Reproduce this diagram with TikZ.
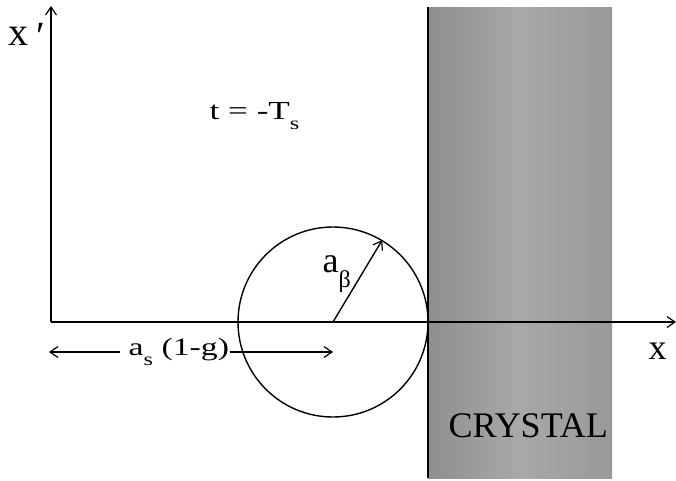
\documentclass[tikz,border=0pt]{standalone}
\usepackage{fontspec}
\setmainfont{Liberation Serif}
\usetikzlibrary{arrows.meta}
\newcommand\lsub[2][18]{\raisebox{-0.42em}{\fontsize{#1}{#1}\selectfont #2}}
\begin{document}
\begin{tikzpicture}[x=1pt,y=-1pt,line width=1.4pt,
  tip/.style={-{Straight Barb[length=8pt,width=11pt,line width=1.2pt]}},
  lbl/.style={inner sep=0pt,anchor=base west}]
\useasboundingbox (0,0) rectangle (676,480);
% crystal
\shade[left color=black!44,right color=black!40,middle color=black!34] (428,7) rectangle (612,478);
\coordinate (ctop) at (428,7);
\coordinate (cbot) at (428,478);
\draw[line width=1.6pt] (ctop) -- (cbot);
% axes
\coordinate (O) at (51,322);
\coordinate (xend) at (676,322);
\coordinate (yend) at (51,6);
\draw[tip] (O) -- (xend);
\draw[tip] (O) -- (yend);
% circle
\node[circle,draw,minimum size=190pt,inner sep=0pt] (c) at (333,322) {};
\draw[tip] (c.center) -- (c.59);
% labels
\node[lbl,font=\fontsize{40}{40}\selectfont] (xp) at (8,45) {x\hspace{0.2em}\raisebox{-0.12em}{′}};
\node[lbl,font=\fontsize{36}{36}\selectfont] (xl) at (648,359) {x};
\node[lbl,font=\fontsize{26}{26}\selectfont] (t) at (209,119) {\scalebox{1.35}[1]{t = -T\lsub{s}}};
\node[lbl,font=\fontsize{36}{36}\selectfont] (ab) at (322,272) {a\lsub[24]{β}};
\node[lbl,font=\fontsize{36}{36}\selectfont] (cr) at (448,437) {CRYSTAL};
\node[lbl,font=\fontsize{25}{25}\selectfont] (as) at (128,355) {\scalebox{1.35}[1]{a\lsub[18]{s} (1-g)}};
\coordinate (aL) at (49,352);
\coordinate (aR) at (333,352);
\draw[tip] ([xshift=-8pt]as.west |- aL) -- (aL);
\draw[tip] (as.east |- aR) -- (aR);
\end{tikzpicture}
\end{document}
